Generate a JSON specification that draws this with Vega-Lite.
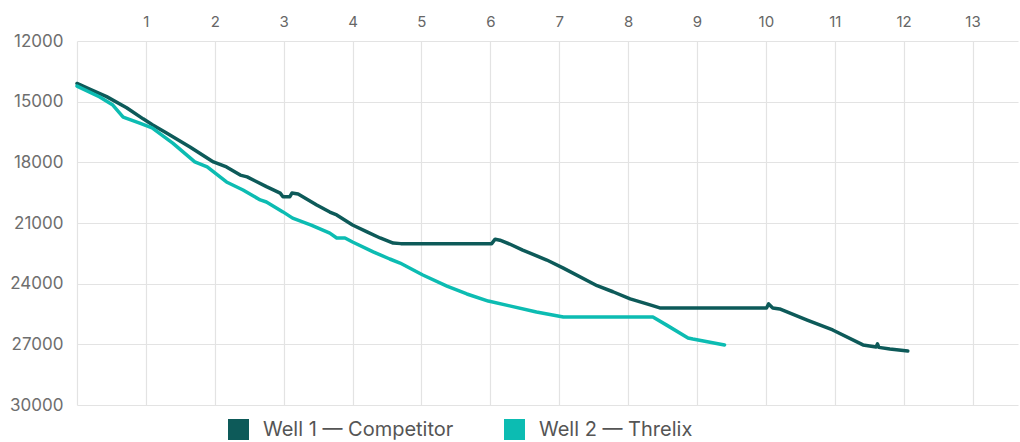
{
  "$schema": "https://vega.github.io/schema/vega-lite/v6.json",
  "width": 941,
  "height": 364,
  "autosize": {"type": "none"},
  "padding": {"left": 77, "top": 41, "right": 2, "bottom": 37},
  "background": "white",
  "config": {
    "font": "Inter",
    "view": {"stroke": null}
  },
  "data": {
    "values": [
      {"well": "Well 1 — Competitor", "x": 0, "y": 14100},
      {"well": "Well 1 — Competitor", "x": 0.2, "y": 14400},
      {"well": "Well 1 — Competitor", "x": 0.43, "y": 14750},
      {"well": "Well 1 — Competitor", "x": 0.72, "y": 15300},
      {"well": "Well 1 — Competitor", "x": 0.96, "y": 15850},
      {"well": "Well 1 — Competitor", "x": 1.1, "y": 16150},
      {"well": "Well 1 — Competitor", "x": 1.3, "y": 16550},
      {"well": "Well 1 — Competitor", "x": 1.64, "y": 17240},
      {"well": "Well 1 — Competitor", "x": 1.98, "y": 17980},
      {"well": "Well 1 — Competitor", "x": 2.17, "y": 18230},
      {"well": "Well 1 — Competitor", "x": 2.37, "y": 18630},
      {"well": "Well 1 — Competitor", "x": 2.47, "y": 18720},
      {"well": "Well 1 — Competitor", "x": 2.75, "y": 19200},
      {"well": "Well 1 — Competitor", "x": 2.95, "y": 19520},
      {"well": "Well 1 — Competitor", "x": 2.99, "y": 19700},
      {"well": "Well 1 — Competitor", "x": 3.09, "y": 19700},
      {"well": "Well 1 — Competitor", "x": 3.12, "y": 19520},
      {"well": "Well 1 — Competitor", "x": 3.21, "y": 19570},
      {"well": "Well 1 — Competitor", "x": 3.48, "y": 20110},
      {"well": "Well 1 — Competitor", "x": 3.67, "y": 20460},
      {"well": "Well 1 — Competitor", "x": 3.77, "y": 20600},
      {"well": "Well 1 — Competitor", "x": 4.0, "y": 21100},
      {"well": "Well 1 — Competitor", "x": 4.21, "y": 21440},
      {"well": "Well 1 — Competitor", "x": 4.4, "y": 21740},
      {"well": "Well 1 — Competitor", "x": 4.59, "y": 21990},
      {"well": "Well 1 — Competitor", "x": 4.7, "y": 22020},
      {"well": "Well 1 — Competitor", "x": 6.02, "y": 22020},
      {"well": "Well 1 — Competitor", "x": 6.07, "y": 21800},
      {"well": "Well 1 — Competitor", "x": 6.14, "y": 21850},
      {"well": "Well 1 — Competitor", "x": 6.28, "y": 22040},
      {"well": "Well 1 — Competitor", "x": 6.47, "y": 22340},
      {"well": "Well 1 — Competitor", "x": 6.82, "y": 22830},
      {"well": "Well 1 — Competitor", "x": 7.06, "y": 23230},
      {"well": "Well 1 — Competitor", "x": 7.55, "y": 24100},
      {"well": "Well 1 — Competitor", "x": 7.78, "y": 24400},
      {"well": "Well 1 — Competitor", "x": 8.03, "y": 24750},
      {"well": "Well 1 — Competitor", "x": 8.32, "y": 25050},
      {"well": "Well 1 — Competitor", "x": 8.46, "y": 25200},
      {"well": "Well 1 — Competitor", "x": 10.01, "y": 25200},
      {"well": "Well 1 — Competitor", "x": 10.04, "y": 25000},
      {"well": "Well 1 — Competitor", "x": 10.1, "y": 25200},
      {"well": "Well 1 — Competitor", "x": 10.2, "y": 25250},
      {"well": "Well 1 — Competitor", "x": 10.6, "y": 25800},
      {"well": "Well 1 — Competitor", "x": 10.97, "y": 26290},
      {"well": "Well 1 — Competitor", "x": 11.41, "y": 27030},
      {"well": "Well 1 — Competitor", "x": 11.6, "y": 27130},
      {"well": "Well 1 — Competitor", "x": 11.62, "y": 26980},
      {"well": "Well 1 — Competitor", "x": 11.64, "y": 27150},
      {"well": "Well 1 — Competitor", "x": 11.8, "y": 27230},
      {"well": "Well 1 — Competitor", "x": 12.06, "y": 27330},
      {"well": "Well 2 — Threlix", "x": 0, "y": 14230},
      {"well": "Well 2 — Threlix", "x": 0.33, "y": 14770},
      {"well": "Well 2 — Threlix", "x": 0.52, "y": 15170},
      {"well": "Well 2 — Threlix", "x": 0.67, "y": 15760},
      {"well": "Well 2 — Threlix", "x": 0.91, "y": 16060},
      {"well": "Well 2 — Threlix", "x": 1.09, "y": 16300},
      {"well": "Well 2 — Threlix", "x": 1.39, "y": 17050},
      {"well": "Well 2 — Threlix", "x": 1.71, "y": 17980},
      {"well": "Well 2 — Threlix", "x": 1.89, "y": 18230},
      {"well": "Well 2 — Threlix", "x": 2.17, "y": 18970},
      {"well": "Well 2 — Threlix", "x": 2.41, "y": 19370},
      {"well": "Well 2 — Threlix", "x": 2.66, "y": 19860},
      {"well": "Well 2 — Threlix", "x": 2.75, "y": 19960},
      {"well": "Well 2 — Threlix", "x": 2.99, "y": 20450},
      {"well": "Well 2 — Threlix", "x": 3.13, "y": 20760},
      {"well": "Well 2 — Threlix", "x": 3.4, "y": 21100},
      {"well": "Well 2 — Threlix", "x": 3.67, "y": 21500},
      {"well": "Well 2 — Threlix", "x": 3.77, "y": 21740},
      {"well": "Well 2 — Threlix", "x": 3.89, "y": 21740},
      {"well": "Well 2 — Threlix", "x": 4.0, "y": 21940},
      {"well": "Well 2 — Threlix", "x": 4.3, "y": 22430},
      {"well": "Well 2 — Threlix", "x": 4.54, "y": 22780},
      {"well": "Well 2 — Threlix", "x": 4.69, "y": 22980},
      {"well": "Well 2 — Threlix", "x": 5.02, "y": 23570},
      {"well": "Well 2 — Threlix", "x": 5.37, "y": 24120},
      {"well": "Well 2 — Threlix", "x": 5.66, "y": 24510},
      {"well": "Well 2 — Threlix", "x": 5.97, "y": 24860},
      {"well": "Well 2 — Threlix", "x": 6.28, "y": 25100},
      {"well": "Well 2 — Threlix", "x": 6.67, "y": 25400},
      {"well": "Well 2 — Threlix", "x": 7.06, "y": 25650},
      {"well": "Well 2 — Threlix", "x": 8.36, "y": 25650},
      {"well": "Well 2 — Threlix", "x": 8.56, "y": 26050},
      {"well": "Well 2 — Threlix", "x": 8.87, "y": 26690},
      {"well": "Well 2 — Threlix", "x": 8.94, "y": 26740},
      {"well": "Well 2 — Threlix", "x": 9.4, "y": 27030}
    ]
  },
  "mark": {"type": "line", "strokeWidth": 3.5, "strokeJoin": "round", "strokeCap": "round"},
  "encoding": {
    "x": {
      "field": "x",
      "type": "quantitative",
      "scale": {"domain": [0, 13.66], "nice": false, "zero": false},
      "axis": {
        "orient": "top",
        "title": null,
        "values": [0, 1, 2, 3, 4, 5, 6, 7, 8, 9, 10, 11, 12, 13],
        "labelExpr": "datum.value == 0 ? '' : datum.label",
        "domain": false,
        "ticks": false,
        "labelFontSize": 15,
        "labelColor": "#666666",
        "labelPadding": 12,
        "gridColor": "#e3e3e3",
        "gridWidth": 1.2
      }
    },
    "y": {
      "field": "y",
      "type": "quantitative",
      "scale": {"domain": [12000, 30000], "reverse": true, "nice": false, "zero": false},
      "axis": {
        "title": null,
        "values": [12000, 15000, 18000, 21000, 24000, 27000, 30000],
        "format": "d",
        "domain": false,
        "ticks": false,
        "labelFontSize": 17,
        "labelColor": "#6e6e6e",
        "labelPadding": 14,
        "gridColor": "#e3e3e3",
        "gridWidth": 1.2
      }
    },
    "color": {
      "field": "well",
      "type": "nominal",
      "scale": {"domain": ["Well 1 — Competitor", "Well 2 — Threlix"], "range": ["#0d5a59", "#0cbcb2"]},
      "legend": {
        "title": null,
        "orient": "none",
        "legendX": 151,
        "legendY": 378,
        "direction": "horizontal",
        "symbolType": "square",
        "symbolSize": 441,
        "symbolStrokeWidth": 0,
        "symbolOpacity": 1,
        "labelFontSize": 20,
        "labelColor": "#555555",
        "labelOffset": 14,
        "columnPadding": 50,
        "labelLimit": 400,
        "encode": {
          "symbols": {
            "update": {
              "fill": {"scale": "color", "field": "value"},
              "strokeWidth": {"value": 0}
            }
          }
        }
      }
    }
  }
}
